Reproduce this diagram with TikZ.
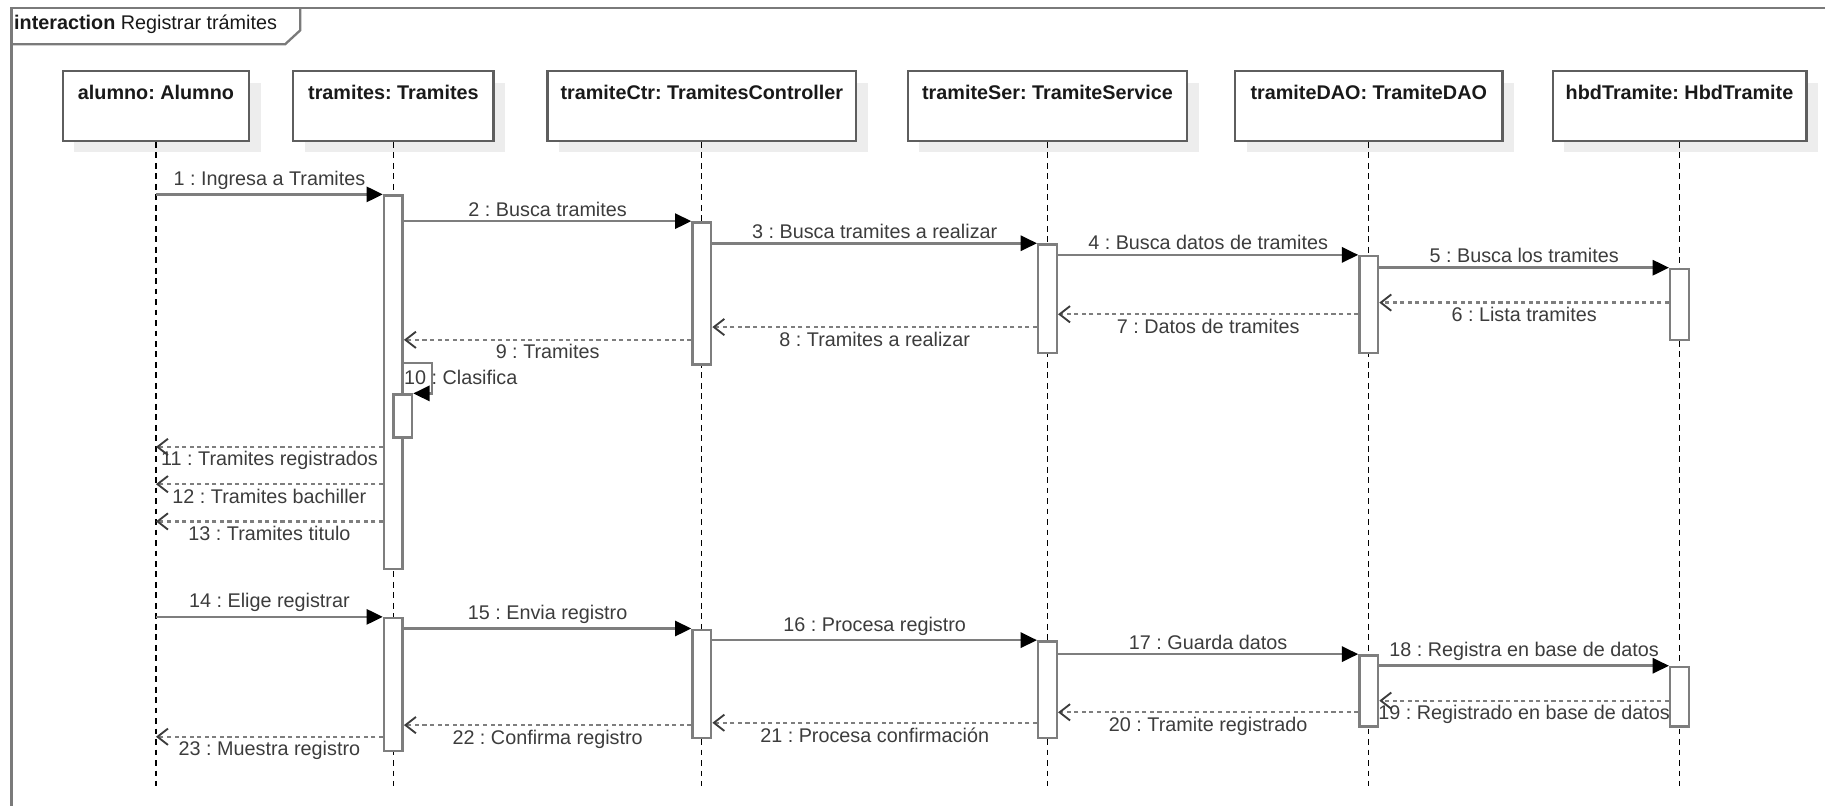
\documentclass[tikz,border=0pt]{standalone}
\usepackage{fontspec}
\setmainfont{Liberation Sans}
\usetikzlibrary{arrows.meta,shadows,calc}
\definecolor{lineg}{HTML}{7E7E7E}
\definecolor{boxg}{HTML}{5E5E5E}
\definecolor{txt}{HTML}{3C3C3C}
\definecolor{shad}{HTML}{EDEDED}
\definecolor{framec}{HTML}{7A7A7A}
\frenchspacing
\begin{document}
\begin{tikzpicture}[x=1pt,y=-1pt,
  font=\fontsize{17}{20}\selectfont,
  frameline/.style={draw=framec, line width=2pt},
  hdr/.style={draw=boxg, line width=2pt, fill=white, minimum height=60pt, inner sep=0pt,
     drop shadow={shadow xshift=10pt, shadow yshift=-10pt, fill=shad, draw=none, opacity=1}},
  hdrtext/.style={anchor=north, yshift=-13pt, inner sep=0pt, font=\fontsize{17}{20}\selectfont\bfseries, text=black!90},
  act/.style={draw=lineg, line width=2.1pt, fill=white, minimum width=16pt, inner sep=0pt, anchor=north},
  life/.style={black, line width=1.1pt, dash pattern=on 5pt off 4pt},
  call/.style={lineg, line width=2.2pt, -{Triangle[length=14pt,width=13pt,color=black,fill=black]}},
  ret/.style={lineg, line width=2pt, dash pattern=on 3.5pt off 3pt,
     -{Straight Barb[length=9pt,width=14pt,line width=1.6pt,color=txt]}},
  clbl/.style={above=2pt, inner sep=1pt, text=txt},
  rlbl/.style={below=2pt, inner sep=1pt, text=txt}
]
\useasboundingbox (0,0) rectangle (1568,692.5);

% frame
\draw[frameline] (1568,7) -- (10,7) -- (10,692.5);
\draw[frameline] (10,38) -- (245,38) -- (258,26) -- (258,7);
\node[anchor=west, inner sep=0pt, text=black!90] (title) at (12,21) {\textbf{interaction} Registrar trámites};

% headers
\node[hdr, minimum width=160pt, label={[hdrtext]north:{alumno: Alumno}}] (alumno) at (134,91) {};
\node[hdr, minimum width=172pt, label={[hdrtext]north:{tramites: Tramites}}] (tramites) at (338,91) {};
\node[hdr, minimum width=265pt, label={[hdrtext]north:{tramiteCtr: TramitesController}}] (ctr) at (603,91) {};
\node[hdr, minimum width=240pt, label={[hdrtext]north:{tramiteSer: TramiteService}}] (ser) at (900,91) {};
\node[hdr, minimum width=230pt, label={[hdrtext]north:{tramiteDAO: TramiteDAO}}] (dao) at (1176,91) {};
\node[hdr, minimum width=218pt, label={[hdrtext]north:{hbdTramite: HbdTramite}}] (hbd) at (1443,91) {};

% lifeline ends
\coordinate (alumnoEnd) at (134,675);
\coordinate (tramitesEnd) at (338,675);
\coordinate (ctrEnd) at (603,675);
\coordinate (serEnd) at (900,675);
\coordinate (daoEnd) at (1176,675);
\coordinate (hbdEnd) at (1443,675);
\foreach \n in {alumno,tramites,ctr,ser,dao,hbd}
  \draw[life] (\n.south) -- (\n End);

% activation bars
\node[act, minimum height=321pt] (tb1) at (338,167) {};
\node[act, minimum height=122pt] (cb1) at (603,190) {};
\node[act, minimum height=93pt] (sb1) at (900,209) {};
\node[act, minimum height=83pt] (db1) at (1176,219) {};
\node[act, minimum height=61pt] (hb1) at (1443,230) {};
\node[act, minimum height=37pt] (tbn) at (346,338) {};

\node[act, minimum height=114pt] (tb2) at (338,530) {};
\node[act, minimum height=93pt] (cb2) at (603,540) {};
\node[act, minimum height=83pt] (sb2) at (900,550) {};
\node[act, minimum height=61pt] (db2) at (1176,562) {};
\node[act, minimum height=51pt] (hb2) at (1443,572) {};

% first block
\draw[call] (alumno.south |- tb1.north) -- node[clbl]{1 : Ingresa a Tramites} (tb1.north west);
\draw[call] (tb1.east |- cb1.north) -- node[clbl]{2 : Busca tramites} (cb1.north west);
\draw[call] (cb1.east |- sb1.north) -- node[clbl]{3 : Busca tramites a realizar} (sb1.north west);
\draw[call] (sb1.east |- db1.north) -- node[clbl]{4 : Busca datos de tramites} (db1.north west);
\draw[call] (db1.east |- hb1.north) -- node[clbl]{5 : Busca los tramites} (hb1.north west);
\draw[ret] (hb1.west |- 0,260) -- node[rlbl]{6 : Lista tramites} (db1.east |- 0,260);
\draw[ret] (db1.west |- 0,270) -- node[rlbl]{7 : Datos de tramites} (sb1.east |- 0,270);
\draw[ret] (sb1.west |- 0,281) -- node[rlbl]{8 : Tramites a realizar} (cb1.east |- 0,281);
\draw[ret] (cb1.west |- 0,292) -- node[rlbl]{9 : Tramites} (tb1.east |- 0,292);
\draw[call] (tb1.east |- 0,312) -| ($(tbn.north east)+(16,0)$) -- (tbn.north east);
\node[anchor=west, inner sep=0pt, text=txt] (l10) at (347,324) {10 : Clasifica};
\draw[ret] (tb1.west |- 0,384) -- node[rlbl]{11 : Tramites registrados} (alumno.south |- 0,384);
\draw[ret] (tb1.west |- 0,416) -- node[rlbl]{12 : Tramites bachiller} (alumno.south |- 0,416);
\draw[ret] (tb1.west |- 0,448) -- node[rlbl]{13 : Tramites titulo} (alumno.south |- 0,448);

% second block
\draw[call] (alumno.south |- tb2.north) -- node[clbl]{14 : Elige registrar} (tb2.north west);
\draw[call] (tb2.east |- cb2.north) -- node[clbl]{15 : Envia registro} (cb2.north west);
\draw[call] (cb2.east |- sb2.north) -- node[clbl]{16 : Procesa registro} (sb2.north west);
\draw[call] (sb2.east |- db2.north) -- node[clbl]{17 : Guarda datos} (db2.north west);
\draw[call] (db2.east |- hb2.north) -- node[clbl]{18 : Registra en base de datos} (hb2.north west);
\draw[ret] (hb2.west |- 0,602) -- node[rlbl]{19 : Registrado en base de datos} (db2.east |- 0,602);
\draw[ret] (db2.west |- 0,612) -- node[rlbl]{20 : Tramite registrado} (sb2.east |- 0,612);
\draw[ret] (sb2.west |- 0,621) -- node[rlbl]{21 : Procesa confirmación} (cb2.east |- 0,621);
\draw[ret] (cb2.west |- 0,623) -- node[rlbl]{22 : Confirma registro} (tb2.east |- 0,623);
\draw[ret] (tb2.west |- 0,633) -- node[rlbl]{23 : Muestra registro} (alumno.south |- 0,633);
\end{tikzpicture}
\end{document}
